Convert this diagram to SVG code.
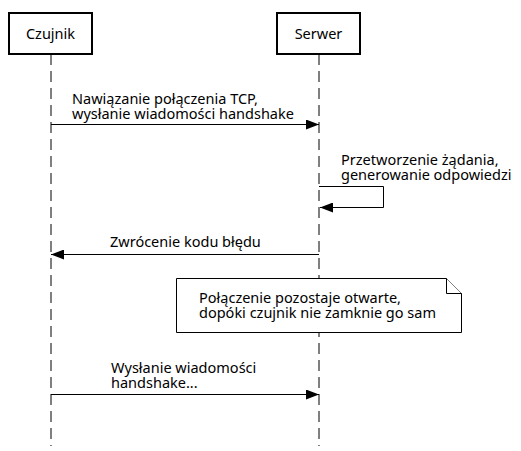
<svg xmlns="http://www.w3.org/2000/svg" width="521" height="451" viewBox="0 0 521 451">
<style>
text{font-family:"Noto Sans","Open Sans","DejaVu Sans",sans-serif;font-size:14.5px;fill:#000}
.box{fill:#fff;stroke:#000;stroke-width:2}
.life{stroke:#000;stroke-width:1;stroke-dasharray:11 6;fill:none}
.msg{stroke:#000;stroke-width:1;fill:none}
.note{fill:#fff;stroke:#000;stroke-width:1}
</style>
<defs>
<marker id="ah" markerWidth="13" markerHeight="10" refX="13" refY="5" orient="auto" markerUnits="userSpaceOnUse">
<path d="M0,0 L13,5 L0,10 Z" fill="#000"/>
</marker>
</defs>
<g id="lifelines">
<line class="life" x1="51" y1="54" x2="51" y2="446"/>
<line class="life" x1="319" y1="54" x2="319" y2="446"/>
</g>
<g id="czujnik">
<rect class="box" x="9" y="13" width="83" height="41"/>
<text x="50.5" y="39" text-anchor="middle">Czujnik</text>
</g>
<g id="serwer">
<rect class="box" x="277" y="13" width="83" height="41"/>
<text x="318.5" y="39" text-anchor="middle">Serwer</text>
</g>
<g id="note">
<path class="note" d="M176.5,278.5 H446.5 L461.5,293.5 V332.5 H176.5 Z"/>
<path class="note" d="M446.5,278.5 V293.5 H461.5" fill="none"/>
<text><tspan x="199" y="303">Połączenie pozostaje otwarte,</tspan><tspan x="199" y="318">dopóki czujnik nie zamknie go sam</tspan></text>
</g>
<g id="connectors">
<line class="msg" x1="51" y1="124.5" x2="319" y2="124.5" marker-end="url(#ah)"/>
<text><tspan x="72" y="104">Nawiązanie połączenia TCP,</tspan><tspan x="72" y="119">wysłanie wiadomości handshake</tspan></text>
<polyline class="msg" points="319,186.5 383.5,186.5 383.5,207.5 320,207.5" marker-end="url(#ah)"/>
<text><tspan x="341" y="165">Przetworzenie żądania,</tspan><tspan x="341" y="180">generowanie odpowiedzi</tspan></text>
<line class="msg" x1="319" y1="254.5" x2="51" y2="254.5" marker-end="url(#ah)"/>
<text x="110" y="247">Zwrócenie kodu błędu</text>
<line class="msg" x1="51" y1="394.5" x2="319" y2="394.5" marker-end="url(#ah)"/>
<text><tspan x="111" y="373">Wysłanie wiadomości</tspan><tspan x="111" y="388">handshake...</tspan></text>
</g>
</svg>
